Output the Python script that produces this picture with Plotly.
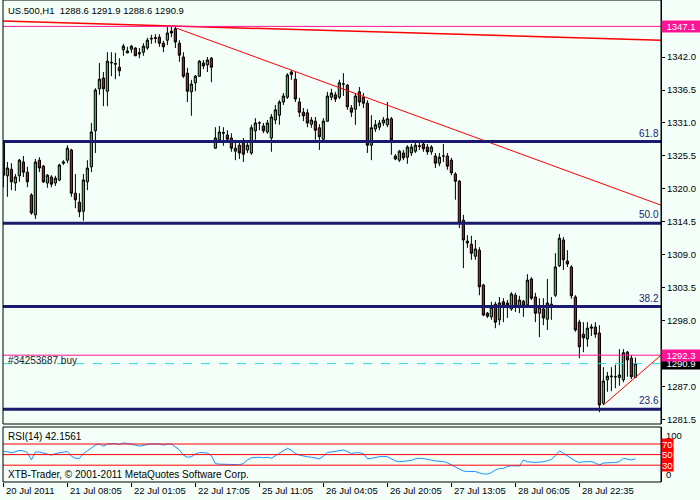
import plotly.graph_objects as go

# ---------------- data ----------------
opens = [1327.7, 1322.2, 1323.3, 1321.0, 1322.2, 1324.5, 1322.8, 1319.0, 1315.7, 1324.8,
         1323.8, 1321.0, 1322.0, 1321.0, 1321.5, 1324.3, 1324.8, 1326.5, 1319.3, 1317.8,
         1316.3, 1321.2, 1323.7, 1329.7, 1336.7, 1338.5, 1336.3, 1341.0, 1340.8, 1340.3,
         1343.2, 1343.0, 1343.3, 1343.5, 1342.5, 1342.8, 1343.5, 1345.0, 1345.1, 1345.3,
         1344.3, 1344.8, 1346.3, 1346.7, 1344.3, 1342.0, 1339.3, 1336.2, 1337.7, 1338.8,
         1341.0, 1340.7, 1341.8, 1326.8, 1328.2, 1329.3, 1329.0, 1328.5, 1326.3, 1327.3,
         1327.7, 1326.5, 1326.0, 1329.7, 1331.0, 1330.5, 1329.5, 1328.5, 1331.5, 1332.3,
         1334.5, 1335.3, 1339.5, 1338.3, 1334.5, 1332.8, 1332.7, 1330.8, 1331.3, 1330.2,
         1328.3, 1331.3, 1335.3, 1335.7, 1335.3, 1337.5, 1337.3, 1333.5, 1333.3, 1336.2,
         1335.3, 1334.3, 1327.3, 1330.0, 1330.3, 1331.0, 1330.7, 1331.7, 1325.5, 1324.8,
         1326.0, 1325.3, 1326.0, 1326.3, 1327.2, 1327.5, 1327.0, 1326.2, 1325.5, 1324.3,
         1325.5, 1325.5, 1324.8, 1322.5, 1321.3, 1314.8, 1311.3, 1310.8, 1308.8, 1309.8,
         1304.0, 1299.3, 1298.7, 1300.8, 1298.2, 1301.2, 1301.0, 1300.0, 1302.3, 1300.5,
         1301.3, 1300.7, 1305.0, 1302.0, 1299.3, 1300.0, 1298.3, 1300.8, 1302.3, 1307.2,
         1311.5, 1308.0, 1307.0, 1302.0, 1297.8, 1295.8, 1295.0, 1296.8, 1297.0, 1296.0,
         1284.3, 1288.2, 1288.7, 1288.7, 1288.6, 1288.2, 1292.8, 1291.8, 1288.6]
highs = [1328.0, 1324.5, 1324.3, 1322.5, 1325.0, 1325.5, 1323.7, 1319.3, 1325.0, 1325.3,
         1324.0, 1322.5, 1322.3, 1322.2, 1324.2, 1324.8, 1327.3, 1326.7, 1322.5, 1319.3,
         1322.5, 1324.8, 1331.0, 1336.8, 1341.0, 1339.5, 1342.8, 1342.8, 1342.7, 1341.8,
         1344.2, 1343.7, 1344.0, 1343.6, 1343.5, 1344.3, 1345.2, 1345.7, 1345.8, 1345.8,
         1344.7, 1347.0, 1347.1, 1347.1, 1344.8, 1342.8, 1340.2, 1338.2, 1339.0, 1341.5,
         1341.5, 1342.0, 1342.0, 1330.3, 1330.5, 1330.3, 1329.8, 1329.3, 1328.2, 1328.0,
         1328.5, 1327.8, 1330.7, 1331.8, 1331.3, 1331.0, 1331.5, 1332.5, 1334.0, 1334.8,
         1336.0, 1339.3, 1339.8, 1339.5, 1335.2, 1333.5, 1333.3, 1332.0, 1332.0, 1330.8,
         1331.8, 1336.2, 1336.7, 1336.2, 1338.2, 1339.3, 1337.5, 1334.0, 1336.0, 1337.0,
         1336.0, 1334.8, 1332.3, 1331.5, 1331.5, 1332.0, 1334.5, 1332.0, 1325.8, 1326.5,
         1326.5, 1327.3, 1327.5, 1327.8, 1327.8, 1328.0, 1327.5, 1327.3, 1326.0, 1326.0,
         1327.5, 1326.0, 1325.2, 1322.8, 1321.5, 1315.7, 1312.3, 1312.2, 1311.5, 1310.3,
         1304.2, 1299.5, 1301.2, 1301.2, 1302.0, 1301.8, 1301.5, 1302.8, 1302.7, 1302.2,
         1301.5, 1305.8, 1305.3, 1302.7, 1301.8, 1301.8, 1305.0, 1302.0, 1309.3, 1312.5,
         1312.0, 1309.8, 1307.3, 1302.3, 1298.2, 1297.8, 1297.8, 1297.5, 1297.8, 1297.3,
         1290.3, 1289.5, 1290.3, 1290.7, 1293.3, 1293.3, 1293.0, 1292.3, 1291.9]
lows = [1320.3, 1318.7, 1319.8, 1319.7, 1321.2, 1322.0, 1320.3, 1315.7, 1315.0, 1322.8,
        1321.0, 1320.2, 1320.3, 1320.5, 1321.3, 1324.0, 1324.3, 1318.7, 1316.8, 1315.3,
        1314.7, 1319.8, 1322.8, 1326.0, 1335.7, 1333.8, 1333.8, 1338.8, 1338.3, 1338.8,
        1342.2, 1342.6, 1342.7, 1342.2, 1341.8, 1342.2, 1343.2, 1344.2, 1344.3, 1343.7,
        1342.8, 1344.0, 1345.3, 1343.5, 1341.2, 1338.5, 1334.5, 1332.2, 1336.3, 1338.7,
        1340.0, 1339.5, 1337.8, 1326.7, 1327.8, 1327.2, 1328.0, 1326.2, 1324.8, 1325.0,
        1324.5, 1326.0, 1325.7, 1328.2, 1329.8, 1329.3, 1329.2, 1326.2, 1330.8, 1330.7,
        1334.0, 1335.0, 1338.2, 1334.5, 1332.0, 1331.3, 1330.3, 1330.2, 1328.2, 1326.5,
        1328.0, 1331.2, 1334.8, 1334.5, 1335.0, 1335.5, 1333.2, 1332.0, 1330.7, 1333.8,
        1333.5, 1326.0, 1324.8, 1329.5, 1329.8, 1330.5, 1330.3, 1325.7, 1324.8, 1324.5,
        1324.8, 1324.2, 1325.5, 1326.0, 1326.5, 1326.2, 1325.7, 1325.7, 1323.5, 1323.8,
        1324.5, 1323.2, 1322.3, 1318.2, 1313.5, 1306.8, 1310.2, 1308.2, 1308.2, 1302.3,
        1298.8, 1298.5, 1298.2, 1296.8, 1297.3, 1297.8, 1298.5, 1299.7, 1299.5, 1299.3,
        1298.7, 1300.3, 1301.5, 1297.8, 1295.3, 1297.3, 1296.5, 1298.2, 1302.0, 1307.0,
        1306.5, 1307.0, 1301.7, 1296.2, 1291.8, 1292.8, 1293.7, 1295.5, 1295.2, 1282.8,
        1284.0, 1286.2, 1286.3, 1286.8, 1287.2, 1287.8, 1288.7, 1288.3, 1288.6]
closes = [1322.3, 1323.5, 1321.2, 1322.0, 1324.8, 1322.8, 1321.2, 1316.0, 1324.5, 1323.5,
          1321.2, 1322.3, 1320.8, 1321.8, 1324.0, 1324.5, 1326.8, 1319.3, 1318.2, 1316.2,
          1321.5, 1323.5, 1329.5, 1336.5, 1338.3, 1336.7, 1341.3, 1341.1, 1340.9, 1339.7,
          1343.8, 1342.7, 1343.8, 1342.2, 1342.7, 1343.8, 1344.8, 1345.1, 1345.2, 1344.3,
          1343.7, 1346.0, 1346.0, 1344.5, 1342.3, 1338.8, 1336.3, 1337.5, 1338.8, 1341.3,
          1340.5, 1341.5, 1340.3, 1328.5, 1329.5, 1329.4, 1328.3, 1326.8, 1326.8, 1326.0,
          1325.8, 1327.3, 1330.2, 1331.0, 1331.0, 1329.7, 1331.0, 1332.0, 1333.2, 1334.5,
          1335.5, 1339.0, 1339.1, 1335.0, 1332.8, 1332.2, 1331.0, 1331.5, 1329.8, 1328.7,
          1331.3, 1335.5, 1336.0, 1335.0, 1337.7, 1337.5, 1333.7, 1332.8, 1335.5, 1334.5,
          1334.3, 1327.3, 1330.2, 1330.7, 1331.0, 1331.5, 1331.7, 1328.2, 1325.0, 1326.3,
          1325.2, 1327.0, 1327.0, 1327.3, 1327.1, 1326.7, 1326.2, 1327.0, 1324.3, 1325.3,
          1325.5, 1323.8, 1322.7, 1321.3, 1314.3, 1311.5, 1311.0, 1309.3, 1310.0, 1303.7,
          1299.0, 1298.8, 1300.3, 1297.8, 1301.0, 1300.7, 1300.5, 1302.5, 1300.3, 1301.5,
          1300.5, 1304.8, 1301.8, 1299.3, 1300.3, 1298.5, 1301.0, 1300.3, 1307.0, 1311.8,
          1308.2, 1307.5, 1302.2, 1296.5, 1293.7, 1295.2, 1296.8, 1297.0, 1295.8, 1284.0,
          1288.0, 1288.8, 1288.8, 1288.7, 1289.0, 1292.7, 1291.5, 1288.7, 1290.9]
rsi = [55.5, 55.5, 53, 55.5, 58, 57, 54, 40, 55, 55,
       53, 52, 49, 52, 53, 54, 56, 47, 43, 43,
       52, 57, 62, 68, 70, 66, 70, 70, 71, 69,
       72, 71, 70, 68, 66, 68, 69, 70, 70, 70,
       68, 70, 70, 65, 59, 49, 45, 46, 51, 54,
       53, 53, 48, 33, 32, 32, 31, 31, 31, 31,
       33, 40, 44, 45, 45, 44, 45, 43, 48, 53,
       57, 62, 58, 52, 49, 47, 46, 45, 44, 42,
       47, 54, 55, 56, 57, 58.7, 56, 52, 53.5, 53.5,
       52, 42, 43, 45, 46, 46.5, 46, 42, 38, 36.5,
       37.5, 37.5, 39, 42, 43, 42.5, 40.5, 39.5, 38, 38,
       37, 34.5, 31, 27, 23, 19, 18, 18.5, 18, 15.5,
       13.4, 13.4, 16, 21, 24, 24, 27.5, 29, 29, 28.5,
       39.8, 36.5, 36, 35, 36, 36.5, 38.5, 41, 48, 57,
       52.5, 47.5, 43, 38, 34.8, 36.5, 36.5, 37, 34, 30.4,
       34, 35, 35, 35, 37, 43, 41, 40, 42.16]
bars = list(range(len(closes)))

time_labels = ["20 Jul 2011", "21 Jul 08:05", "22 Jul 01:05", "22 Jul 17:05", "25 Jul 11:05",
               "26 Jul 04:05", "26 Jul 20:05", "27 Jul 13:05", "28 Jul 06:05", "28 Jul 22:35"]
time_label_bars = [0, 16, 32, 48, 64, 80, 96, 112, 128, 144]
price_ticks = [1281.5, 1287.0, 1292.5, 1298.0, 1303.5, 1309.0, 1314.5, 1320.0,
               1325.5, 1331.0, 1336.5, 1342.0, 1347.5]

fib_levels = [1327.9, 1314.3, 1300.4, 1283.3]
fib_names = ["61.8", "50.0", "38.2", "23.6"]

top_line_x = [-0.1, 164.4]
top_line_y = [1348.0, 1344.8]
down_trend_x = [43.3, 164.4]
down_trend_y = [1346.8, 1317.3]
support_x = [150.0, 164.4]
support_y = [1284.0, 1292.3]

high_mark = 1347.1
order_price = 1292.3
bid_price = 1290.9
rsi_levels = [70, 50, 30]
rsi_value_text = "42.1561"

# ---------------- styling ----------------
BG = "#F4FFF9"
NAVY = "#1B1B6E"
PINK = "#FF1493"
FONT = "Liberation Sans"
X_MIN, X_MAX = -0.1, 164.4
MAIN_DOM = [1 - 424 / 482, 1]
RSI_DOM = [0, 55 / 482]


def px(xp):
    return (xp - 3) / 658


def py(yp):
    return (482 - yp) / 482


fig = go.Figure()

fig.add_trace(go.Candlestick(
    x=bars, open=opens, high=highs, low=lows, close=closes,
    xaxis="x", yaxis="y",
    increasing=dict(line=dict(color="black", width=1), fillcolor="#1ED21E"),
    decreasing=dict(line=dict(color="black", width=1), fillcolor="#E00000"),
    whiskerwidth=0, showlegend=False, hoverinfo="skip"))

# trendlines
fig.add_trace(go.Scatter(x=top_line_x, y=top_line_y, mode="lines",
                         line=dict(color="#FF0000", width=1.5), xaxis="x", yaxis="y",
                         showlegend=False, hoverinfo="skip"))
fig.add_trace(go.Scatter(x=down_trend_x, y=down_trend_y, mode="lines",
                         line=dict(color="#FF0000", width=1), xaxis="x", yaxis="y",
                         showlegend=False, hoverinfo="skip"))
fig.add_trace(go.Scatter(x=support_x, y=support_y, mode="lines",
                         line=dict(color="#FF0000", width=1), xaxis="x", yaxis="y",
                         showlegend=False, hoverinfo="skip"))

# RSI
fig.add_trace(go.Scatter(x=bars, y=rsi, mode="lines",
                         line=dict(color="#1E90FF", width=1), xaxis="x2", yaxis="y2",
                         showlegend=False, hoverinfo="skip"))

shapes = []
for lv in fib_levels:
    shapes.append(dict(type="line", xref="paper", yref="y", x0=0, x1=1, y0=lv, y1=lv,
                       line=dict(color=NAVY, width=3)))
shapes.append(dict(type="line", xref="paper", yref="y", x0=0, x1=1, y0=high_mark, y1=high_mark,
                   line=dict(color=PINK, width=1)))
shapes.append(dict(type="line", xref="paper", yref="y", x0=0, x1=1, y0=order_price, y1=order_price,
                   line=dict(color=PINK, width=1)))
shapes.append(dict(type="line", xref="paper", yref="y", x0=0, x1=1, y0=bid_price, y1=bid_price,
                   line=dict(color="#22DDDD", width=1, dash="dash")))
for lv in rsi_levels:
    shapes.append(dict(type="line", xref="paper", yref="y2", x0=0, x1=1, y0=lv, y1=lv,
                       line=dict(color="#FF0000", width=1)))
# panel frames
shapes.append(dict(type="rect", xref="paper", yref="paper", x0=0, x1=1,
                   y0=MAIN_DOM[0], y1=MAIN_DOM[1], line=dict(color="black", width=1)))
shapes.append(dict(type="rect", xref="paper", yref="paper", x0=0, x1=1,
                   y0=RSI_DOM[0], y1=RSI_DOM[1], line=dict(color="black", width=1)))

ann = []
ann.append(dict(text="US.500,H1  %.1f %.1f %.1f %.1f" % (opens[-1], highs[-1], lows[-1], closes[-1]),
                xref="paper", yref="paper", x=px(6), y=py(10.5), xanchor="left", yanchor="middle",
                showarrow=False, font=dict(family=FONT, size=9.5, color="black")))
ann.append(dict(text="RSI(14) " + rsi_value_text, xref="paper", yref="paper", x=px(6), y=py(436),
                xanchor="left", yanchor="middle", showarrow=False,
                font=dict(family=FONT, size=10, color="black")))
ann.append(dict(text="XTB-Trader, © 2001-2011 MetaQuotes Software Corp.", xref="paper", yref="paper",
                x=px(6), y=py(474), xanchor="left", yanchor="middle", showarrow=False,
                font=dict(family=FONT, size=10, color="black")))
ann.append(dict(text="#34253687 buy", xref="paper", yref="paper", x=px(6), y=py(360),
                xanchor="left", yanchor="middle", showarrow=False,
                font=dict(family=FONT, size=10, color="#222222")))
for lv, nm in zip(fib_levels, fib_names):
    ann.append(dict(text=nm, xref="paper", yref="y", x=1, y=lv, xanchor="right", yanchor="bottom",
                    yshift=1, showarrow=False, font=dict(family=FONT, size=10, color=NAVY)))
for b, t in zip(time_label_bars, time_labels):
    ann.append(dict(text=t, xref="x2", yref="paper", x=b, y=py(491), xanchor="left", yanchor="middle",
                    xshift=1, showarrow=False, font=dict(family=FONT, size=9.5, color="black")))
# price boxes on the axis
ann.append(dict(text="%.1f" % bid_price, xref="paper", yref="y", x=1, y=bid_price, xanchor="left",
                yanchor="middle", width=38, height=11, borderpad=0, bgcolor="black", align="center",
                showarrow=False, font=dict(family=FONT, size=9.5, color="white")))
ann.append(dict(text="%.1f" % order_price, xref="paper", yref="y", x=1, y=order_price, xanchor="left",
                yanchor="middle", width=38, height=11, borderpad=0, bgcolor=PINK, align="center",
                showarrow=False, font=dict(family=FONT, size=9.5, color="white")))
ann.append(dict(text="%.1f" % high_mark, xref="paper", yref="y", x=1, y=high_mark, xanchor="left",
                yanchor="middle", width=38, height=11, borderpad=0, bgcolor=PINK, align="center",
                showarrow=False, font=dict(family=FONT, size=9.5, color="white")))
# RSI scale labels
ann.append(dict(text="100", xref="paper", yref="y2", x=1, y=100, xanchor="left", yanchor="top",
                xshift=3, showarrow=False, font=dict(family=FONT, size=9.5, color="black")))
ann.append(dict(text="0", xref="paper", yref="y2", x=1, y=0, xanchor="left", yanchor="bottom",
                xshift=3, yshift=-1, showarrow=False, font=dict(family=FONT, size=9.5, color="black")))
for lv in rsi_levels:
    ann.append(dict(text=str(lv), xref="paper", yref="y2", x=1, y=lv, xanchor="left", yanchor="middle",
                    borderpad=0, bgcolor="#FF0000", showarrow=False,
                    font=dict(family=FONT, size=9.5, color="white")))

fig.update_layout(
    width=700, height=500,
    margin=dict(l=3, r=39, t=0, b=18),
    paper_bgcolor=BG, plot_bgcolor=BG,
    boxgap=0.2,
    showlegend=False,
    shapes=shapes, annotations=ann,
    xaxis=dict(domain=[0, 1], anchor="y", range=[X_MIN, X_MAX], showgrid=False, zeroline=False,
               showticklabels=False, ticks="", rangeslider=dict(visible=False), fixedrange=True),
    xaxis2=dict(domain=[0, 1], anchor="y2", range=[X_MIN, X_MAX], showgrid=False, zeroline=False,
                showticklabels=False, ticks="outside", ticklen=4, tickcolor="black",
                tickvals=time_label_bars, matches="x"),
    yaxis=dict(domain=MAIN_DOM, anchor="x", side="right", range=[1280.83, 1351.5], showgrid=False,
               zeroline=False, tickvals=price_ticks, tickformat=".1f", ticks="outside", ticklen=3,
               tickcolor="black", showline=True, linecolor="black", linewidth=1,
               tickfont=dict(family=FONT, size=9.5, color="black")),
    yaxis2=dict(domain=RSI_DOM, anchor="x2", side="right", range=[-1.7, 102.1], showgrid=False,
                zeroline=False, showticklabels=False, ticks="", showline=True, linecolor="black",
                linewidth=1),
)

fig.write_html("out.html", config={"displayModeBar": False},
               post_script="document.body.style.margin='0px';document.body.style.background='%s';" % BG)
